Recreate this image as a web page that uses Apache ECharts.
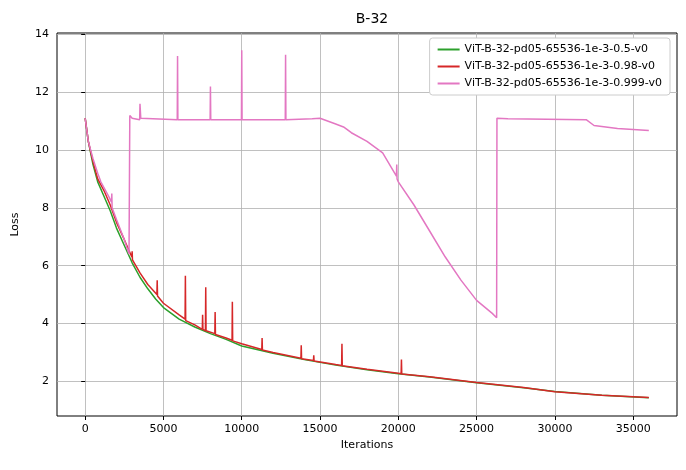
<!DOCTYPE html>
<html>
<head>
<meta charset="utf-8">
<script src="https://cdn.jsdelivr.net/npm/echarts@6/dist/echarts.min.js"></script>
<style>html,body{margin:0;padding:0;background:#fff}#main{width:686px;height:470px}</style>
</head>
<body>
<div id="main"></div>
<script>
// series names
const names = [
    'ViT-B-32-pd05-65536-1e-3-0.5-v0',
    'ViT-B-32-pd05-65536-1e-3-0.98-v0',
    'ViT-B-32-pd05-65536-1e-3-0.999-v0'
];
const colors = ['#2ca02c', '#d62728', '#e377c2'];
const xTicks = [0, 5000, 10000, 15000, 20000, 25000, 30000, 35000];
const yTicks = [2, 4, 6, 8, 10, 12, 14];

// [iteration, loss]
const lossA = [[0,11.1],[200,10.3],[500,9.5],[800,8.9],[1200,8.4],[1600,7.9],[2000,7.3],[2500,6.7],[3000,6.1],
    [3500,5.6],[4000,5.2],[4500,4.85],[5000,4.55],[6000,4.15],[7000,3.88],[8000,3.65],[9000,3.45],[10000,3.22],
    [12000,2.97],[14000,2.75],[16000,2.56],[18000,2.4],[20000,2.26],[22000,2.15],[25000,1.95],[28000,1.78],
    [30000,1.65],[33000,1.52],[36000,1.43]];

const lossB = [[0,11.1],[200,10.3],[500,9.6],[800,9.0],[1200,8.6],[1600,8.1],[2000,7.5],[2500,6.9],[2980,6.3],
    [3000,6.5],[3020,6.2],[3500,5.75],[4000,5.35],[4580,5.0],[4600,5.5],[4620,4.95],[5000,4.7],[6000,4.3],
    [6380,4.15],[6400,5.65],[6420,4.1],[7000,3.95],[7480,3.8],[7500,4.3],[7520,3.8],[7680,3.75],[7700,5.25],
    [7720,3.75],[8280,3.65],[8300,4.4],[8320,3.62],[9000,3.5],[9380,3.42],[9400,4.75],[9420,3.4],[10000,3.3],
    [11280,3.1],[11300,3.5],[11320,3.08],[12000,3.0],[13780,2.8],[13800,3.25],[13820,2.78],[14580,2.72],
    [14600,2.9],[14620,2.7],[16000,2.58],[16380,2.55],[16400,3.3],[16420,2.54],[18000,2.42],[20000,2.28],
    [20180,2.26],[20200,2.75],[20220,2.25],[22000,2.16],[25000,1.96],[28000,1.79],[30000,1.64],[33000,1.52],[36000,1.44]];

const lossC = [[0,11.1],[200,10.3],[500,9.7],[800,9.2],[1000,8.9],[1500,8.4],[1680,8.2],[1700,8.5],[1720,8.0],
    [2000,7.6],[2500,6.9],[2800,6.4],[2850,11.2],[3000,11.1],[3480,11.05],[3500,11.6],[3550,11.1],[5880,11.05],
    [5900,13.25],[5920,11.05],[7980,11.05],[8000,12.2],[8020,11.05],[9980,11.05],[10000,13.45],[10020,11.05],
    [12780,11.05],[12800,13.3],[12820,11.05],[14500,11.08],[15000,11.1],[16000,10.9],[16500,10.8],[17000,10.6],
    [18000,10.3],[19000,9.9],[19880,9.1],[19900,9.5],[19920,9.0],[20000,8.9],[21000,8.1],[22000,7.2],[23000,6.3],
    [24000,5.5],[25000,4.8],[26000,4.35],[26280,4.2],[26300,11.1],[27000,11.08],[32000,11.05],[32500,10.85],
    [34000,10.75],[36000,10.68]];

const chart = echarts.init(document.getElementById('main'));
const txt = { color: '#000', fontFamily: 'DejaVu Sans', fontSize: 11 };
const grid = { show: true, lineStyle: { color: '#b0b0b0', width: 0.8 } };

chart.setOption({
    backgroundColor: '#fff',
    animation: false,
    title: { text: 'B-32', left: 367, top: 7, textAlign: 'center',
        textStyle: { fontFamily: 'DejaVu Sans', fontSize: 14, fontWeight: 'normal', color: '#000' } },
    grid: { left: 57, right: 9, top: 33, bottom: 54, show: true, borderColor: '#000', borderWidth: 1 },
    legend: {
        top: 38, right: 16, orient: 'vertical', itemWidth: 22, itemHeight: 2, itemGap: 6,
        backgroundColor: '#fff', borderColor: '#ccc', borderWidth: 1, borderRadius: 3, padding: [6, 8],
        textStyle: txt, icon: 'rect'
    },
    xAxis: {
        type: 'value', min: -1800, max: 37800,
        name: 'Iterations', nameLocation: 'middle', nameGap: 24, nameTextStyle: txt,
        axisLine: { show: false },
        axisTick: { customValues: xTicks, length: 4, lineStyle: { color: '#000' } },
        axisLabel: { customValues: xTicks, formatter: v => String(v), ...txt },
        splitLine: grid
    },
    yAxis: {
        type: 'value', min: 0.8, max: 14.05,
        name: 'Loss', nameLocation: 'middle', nameGap: 36, nameTextStyle: txt,
        axisLine: { show: false },
        axisTick: { show: true, customValues: yTicks, length: 4, lineStyle: { color: '#000' } },
        axisLabel: { customValues: yTicks, formatter: v => String(v), ...txt },
        splitLine: grid
    },
    series: [lossA, lossB, lossC].map((d, i) => ({
        name: names[i], type: 'line', data: d, showSymbol: false,
        lineStyle: { width: 1.5, color: colors[i] }, itemStyle: { color: colors[i] }
    }))
});
</script>
</body>
</html>
